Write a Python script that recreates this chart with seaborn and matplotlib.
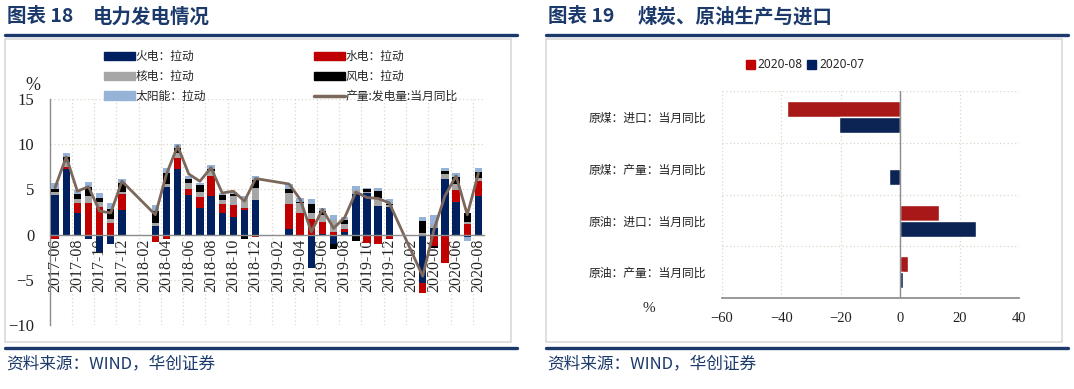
import numpy as np
import pandas as pd
import matplotlib
matplotlib.use("Agg")
import matplotlib.pyplot as plt
from matplotlib.patches import Patch, Rectangle
from matplotlib.lines import Line2D
import seaborn as sns

# --- Data: 图表18 电力发电情况 (拉动, %) ---
nan = np.nan
MONTHS = pd.date_range("2017-06", "2020-08", freq="MS").strftime("%Y-%m").tolist()

THERMAL = [4.35, 7.3, 2.44, -0.5, -1.9, -1.07, 2.73, nan, nan,
           0.96, 5.28, 7.3, 4.35, 2.9, 4.28, 2.44, 1.96, 2.73, 3.84, nan, nan,
           0.66, -0.2, -3.65, 0.1, -1.0, 0.3, 4.46, 4.6, 3.17, 3.1, nan, nan,
           -5.4, 0.77, 6.2, 3.62, -0.3, 4.28]
HYDRO = [-0.5, 0.2, 1.03, 3.47, 3.06, 1.33, 1.73, nan, nan,
         -0.8, -0.5, 1.22, 0.66, 1.25, 2.2, 0.92, 1.29, 0.26, -0.22, nan, nan,
         2.69, 2.36, 1.77, 1.25, 0.3, 0.3, 0.0, -0.9, -1.07, -0.5, nan, nan,
         -1.03, -1.25, -3.1, 1.33, 1.14, 1.66]
NUCLEAR = [0.37, 0.55, 0.52, 0.8, 0.55, 0.44, 0.26, nan, nan,
           0.3, 0.3, 0.55, 0.74, 0.55, 0.55, 0.48, 1.03, 0.85, 1.37, nan, nan,
           1.29, 1.1, 0.6, 0.8, 1.3, 0.6, 0.44, 0.1, 0.92, 0.2, nan, nan,
           0.2, 0.3, 0.48, 0.63, 0.26, 0.3]
WIND = [0.37, 0.48, 0.55, 1.03, 0.48, 1.03, 1.03, nan, nan,
        1.3, 1.18, 0.48, 0.37, 0.77, 0.2, 0.52, 0.26, -0.52, 0.85, nan, nan,
        0.37, 0.1, 1.0, 0.44, -0.6, 0.37, -0.7, 0.3, 0.74, 0.1, nan, nan,
        1.33, -0.2, 0.37, 0.74, 1.03, 0.74]
SOLAR = [0.66, 0.48, 0.37, 0.55, 0.55, 0.66, 0.37, nan, nan,
         0.74, 0.66, 0.44, 0.37, 0.26, 0.48, 0.22, 0.2, 0.44, 0.44, nan, nan,
         0.55, 0.44, 0.55, 0.3, 0.6, 0.37, 0.52, 0.1, 0.37, 0.5, nan, nan,
         0.44, 1.1, 0.37, 0.44, -0.37, 0.37]
GEN_YOY = [5.2, 8.6, 4.8, 5.3, 2.6, 2.4, 5.9, nan, nan,
           2.2, 6.7, 9.8, 6.7, 5.9, 7.4, 4.6, 4.8, 3.7, 6.2, nan, nan,
           5.6, 3.9, 0.3, 2.8, 0.7, 1.9, 4.7, 4.1, 4.0, 3.5, nan, nan,
           -4.6, 0.5, 4.3, 6.5, 2.2, 6.8]

# --- Data: 图表19 煤炭、原油生产与进口 (%) ---
ITEMS = ["原煤：进口：当月同比", "原煤：产量：当月同比", "原油：进口：当月同比", "原油：产量：当月同比"]
AUG_2020 = [-37.9, -0.5, 13.0, 2.7]
JUL_2020 = [-20.7, -3.7, 25.5, 0.9]

# --- Style ---
NAVY, RED, GRAY, BLACK, LBLUE = "#002060", "#C00000", "#A6A6A6", "#000000", "#95B3D7"
LINE_C = "#7B675B"
TITLE_C = "#1B3A6B"
AXIS_C = "#8C8C8C"
GRID_C = "#DCD6C8"
SERIF = "Liberation Serif"

sns.set_theme(style="white")
plt.rcParams["font.family"] = ["Noto Sans CJK SC", "DejaVu Sans"]

W, H = 1074, 389
fig = plt.figure(figsize=(W / 100, H / 100), dpi=100)


def box(x0, y0, x1, y1):
    return [x0 / W, 1 - y1 / H, (x1 - x0) / W, (y1 - y0) / H]


def num_label(v):
    return f"{v}".replace("-", "\u2212")


# page decorations: titles, rules, panel frames, source
for x0, x1, num, name, nx in [(7, 517, "图表 18", "电力发电情况", 93),
                              (548, 1068, "图表 19", "煤炭、原油生产与进口", 638)]:
    fig.text(x0 / W, 1 - 17 / H, num, fontsize=14, weight="bold", color=TITLE_C, va="center")
    fig.text(nx / W, 1 - 17 / H, name, fontsize=14, weight="bold", color=TITLE_C, va="center")
    fig.add_artist(Rectangle(((x0 - 2) / W, 1 - 342 / H), (x1 - x0 - 4) / W, 303 / H,
                             transform=fig.transFigure, fill=False, ec="#D9D9D9", lw=1.2))
    for yy in (35, 348):
        fig.add_artist(Line2D([(x0 - 2) / W, x1 / W], [1 - yy / H] * 2,
                              transform=fig.transFigure, color=TITLE_C, lw=2.4))
    fig.text((x0 - 1) / W, 1 - 364 / H, "资料来源：WIND，华创证券", fontsize=12,
             style="italic", color=TITLE_C, va="center")

# ---------------- Left: stacked contributions + line ----------------
ax1 = fig.add_axes(box(49.5, 99, 484, 325))
ax1.spines["bottom"].set_position(("data", 0))
x = np.arange(len(MONTHS))
pos = np.zeros(len(x))
neg = np.zeros(len(x))
for vals, color in zip([THERMAL, HYDRO, NUCLEAR, WIND, SOLAR], [NAVY, RED, GRAY, BLACK, LBLUE]):
    v = np.nan_to_num(np.array(vals, dtype=float))
    ax1.bar(x, v, bottom=np.where(v >= 0, pos, neg), width=0.66, color=color, linewidth=0, zorder=3)
    pos += np.clip(v, 0, None)
    neg += np.clip(v, None, 0)

gen = pd.Series(GEN_YOY, index=x).dropna()
sns.lineplot(x=gen.index, y=gen.values, ax=ax1, color=LINE_C, linewidth=2.0, zorder=4)

ax1.set_xlim(-0.5, len(x) - 0.5)
ax1.set_ylim(-10, 15)
ax1.set_yticks(range(-10, 16, 5))
ax1.set_xticks(x[::2])
ax1.set_xticklabels(MONTHS[::2], rotation=90, fontfamily=SERIF, fontsize=11.5)
ax1.set_xticks(np.arange(1.5, len(x), 2), minor=True)
ax1.set_yticklabels([num_label(v) for v in range(-10, 16, 5)], fontfamily=SERIF, fontsize=12)
for s in ("top", "right"):
    ax1.spines[s].set_visible(False)
for s in ("left", "bottom"):
    ax1.spines[s].set_color(AXIS_C)
    ax1.spines[s].set_linewidth(1.0)
ax1.spines["bottom"].set_zorder(5)
ax1.tick_params(axis="x", which="both", length=0, pad=3, colors="#222222")
ax1.tick_params(axis="y", length=3, color=AXIS_C, direction="out", pad=8, colors="#222222")
ax1.grid(axis="y", which="major", color=GRID_C, linestyle=(0, (1, 2)), linewidth=0.9)
ax1.grid(axis="x", which="minor", color=GRID_C, linestyle=(0, (1, 2)), linewidth=0.9)
ax1.set_xlabel("")
ax1.set_ylabel("")
fig.text(33 / W, 1 - 85 / H, "%", fontsize=13, fontfamily=SERIF, ha="center", va="center")

handles = [Patch(color=NAVY), Patch(color=GRAY), Patch(color=LBLUE),
           Patch(color=RED), Patch(color=BLACK), Line2D([], [], color=LINE_C, lw=2.5)]
labels = ["火电：拉动", "核电：拉动", "太阳能：拉动", "水电：拉动", "风电：拉动", "产量:发电量:当月同比"]
fig.legend(handles, labels, ncol=2, loc="upper left", bbox_to_anchor=(104 / W, 1 - 50 / H),
           frameon=False, fontsize=8.5, handlelength=2.6, handleheight=0.7, handletextpad=0.1,
           columnspacing=9.1, labelspacing=0.58, borderpad=0, borderaxespad=0)

# ---------------- Right: horizontal bars ----------------
ax2 = fig.add_axes(box(721.7, 91.4, 1019.3, 298))
df = pd.DataFrame({"item": ITEMS * 2,
                   "period": ["2020-08"] * len(ITEMS) + ["2020-07"] * len(ITEMS),
                   "value": AUG_2020 + JUL_2020})
sns.barplot(data=df, y="item", x="value", hue="period", orient="h",
            palette=[RED, NAVY], width=0.62, gap=0, ax=ax2, legend=False, zorder=3)
ax2.set_xlim(-60, 40)
ax2.set_xticks(range(-60, 41, 20))
ax2.set_xticklabels([num_label(v) for v in range(-60, 41, 20)], fontfamily=SERIF, fontsize=10.5)
ax2.set_ylim(len(ITEMS) - 0.5, -0.5)
ax2.set_yticks(np.arange(-0.5, len(ITEMS), 1), minor=True)
ax2.axvline(0, color=AXIS_C, lw=1.0, zorder=4)
for lab in ax2.get_yticklabels():
    lab.set_fontsize(8.5)
for s in ("top", "right", "left"):
    ax2.spines[s].set_visible(False)
ax2.spines["bottom"].set_color(AXIS_C)
ax2.tick_params(axis="y", which="both", length=0, pad=11, colors="#222222")
ax2.tick_params(axis="x", length=4, color=AXIS_C, direction="out", pad=6, colors="#222222")
ax2.grid(axis="x", color=GRID_C, linestyle=(0, (1, 2)), linewidth=0.9)
ax2.grid(axis="y", which="minor", color=GRID_C, linestyle=(0, (1, 2)), linewidth=0.9)
ax2.grid(axis="y", which="major", visible=False)
ax2.set_xlabel("")
ax2.set_ylabel("")
fig.text(649 / W, 1 - 308 / H, "%", fontsize=11, fontfamily=SERIF, ha="center", va="center")

fig.legend([Patch(color=RED), Patch(color=NAVY)], ["2020-08", "2020-07"], ncol=2,
           loc="center", bbox_to_anchor=(805 / W, 1 - 65 / H), frameon=False,
           handlelength=0.75, handleheight=0.75, handletextpad=0.25, columnspacing=0.4,
           prop={"family": ["Noto Sans", "DejaVu Sans"], "size": 8.5})

fig.savefig("out.png", dpi=100)
